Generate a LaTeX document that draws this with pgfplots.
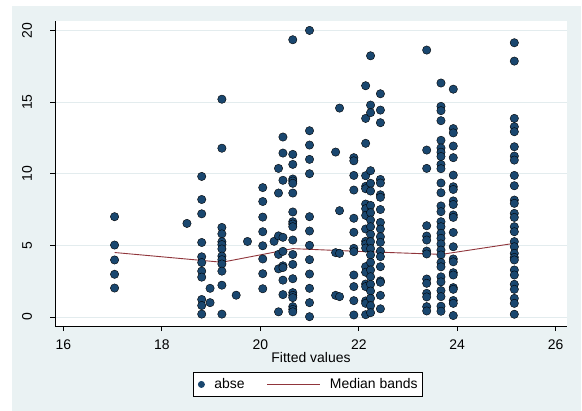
\documentclass[border=0pt]{standalone}
\usepackage{pgfplots}
\pgfplotsset{compat=1.18}
\usepackage{fontspec}
\setmainfont{Liberation Sans}
\definecolor{stnavy}{HTML}{1A476F}
\definecolor{stmaroon}{HTML}{90353B}
\definecolor{stbg}{HTML}{EAF2F3}
\definecolor{stgrid}{HTML}{E3ECEE}
\newcommand{\lblfont}{\fontsize{14}{16}\selectfont}

\begin{document}
\begin{tikzpicture}
% graph region
\fill[white] (-55bp,-85bp) rectangle (527bp,326bp);
\fill[stbg] (-43bp,-85bp) rectangle (526bp,320bp);
\begin{axis}[
  at={(0,0)}, anchor=south west,
  scale only axis, width=512bp, height=305.3bp,
  xmin=15.83, xmax=26.23, ymin=-0.63, ymax=20.68,
  axis background/.style={fill=white},
  axis x line*=bottom, axis y line*=left,
  axis line style={black, line width=0.7pt, -},
  xtick={16,18,...,26}, ytick={0,5,...,20},
  tick align=outside, major tick length=5bp,
  tick style={black, line width=0.7pt},
  ymajorgrids, grid style={stgrid, line width=0.9pt},
  ticklabel style={font=\lblfont},
  /pgf/number format/assume math mode=true,
  xticklabel style={anchor=base, inner sep=0pt},
  xticklabel shift=18bp,
  yticklabel style={rotate=90, anchor=south, inner sep=0pt},
  yticklabel shift=17.7bp,
  xlabel={Fitted values},
  xlabel style={font=\lblfont, at={(rel axis cs:0.5,0)}, anchor=base, yshift=-36.5bp, inner sep=0pt},
  legend columns=2,
  legend style={at={(rel axis cs:0,0)}, anchor=north west, xshift=137.7bp, yshift=-46.3bp,
    draw=black, line width=0.7pt, fill=white, font=\lblfont,
    inner xsep=4.9bp, inner ysep=6bp, nodes={inner sep=0pt},
    /tikz/every odd column/.append style={column sep=9.5bp},
    /tikz/every even column/.append style={column sep=22.3bp}},
]
\addplot[only marks, mark=*, mark size=4.2bp, mark options={fill=stnavy, draw=none},
  legend image code/.code={\fill[stnavy] (3.1bp,0bp) circle (3.1bp);}]
  table {
x y
17.04 7.00
17.04 5.02
17.04 3.98
17.04 2.98
17.04 2.02
18.51 6.53
18.81 9.81
18.81 8.20
18.81 7.20
18.81 5.20
18.81 4.20
18.81 3.80
18.81 3.20
18.81 2.78
18.81 1.22
18.81 0.80
18.81 0.20
18.98 2.00
18.98 1.00
19.22 15.20
19.22 11.78
19.22 6.25
19.22 5.80
19.22 5.25
19.22 5.05
19.22 4.75
19.22 4.25
19.22 4.00
19.22 3.70
19.22 3.20
19.22 2.22
19.22 0.20
19.51 1.52
19.74 5.27
20.05 9.03
20.05 8.06
20.05 6.97
20.05 5.95
20.05 4.97
20.05 4.05
20.05 3.02
20.05 1.97
20.28 5.28
20.37 10.37
20.37 8.65
20.37 5.66
20.37 4.37
20.37 3.36
20.37 0.36
20.46 12.56
20.46 11.44
20.46 9.54
20.46 5.56
20.46 4.58
20.46 3.57
20.46 3.45
20.46 2.57
20.46 1.56
20.66 19.35
20.66 11.35
20.66 10.65
20.66 9.63
20.66 9.49
20.66 9.33
20.66 8.65
20.66 7.33
20.66 6.65
20.66 6.49
20.66 6.30
20.66 5.37
20.66 4.36
20.66 3.67
20.66 2.67
20.66 1.70
20.66 1.51
20.66 1.35
20.66 0.72
20.66 0.53
20.66 0.36
21.00 20.00
21.00 13.00
21.00 12.00
21.00 11.00
21.00 10.00
21.00 7.00
21.00 6.00
21.00 5.00
21.00 4.00
21.00 3.00
21.00 2.00
21.00 1.00
21.00 0.02
21.53 11.51
21.53 4.49
21.53 1.51
21.61 14.58
21.61 7.42
21.61 4.44
21.61 1.42
21.90 11.12
21.90 10.90
21.90 9.88
21.90 8.86
21.90 6.89
21.90 5.91
21.90 4.79
21.90 4.56
21.90 2.93
21.90 2.12
21.90 1.14
21.90 0.14
22.14 16.14
22.14 13.86
22.14 12.12
22.14 9.86
22.14 9.12
22.14 8.95
22.14 7.88
22.14 7.56
22.14 7.09
22.14 6.14
22.14 5.28
22.14 5.09
22.14 4.81
22.14 3.51
22.14 3.12
22.14 2.30
22.14 2.12
22.14 1.12
22.14 0.95
22.14 0.16
22.24 18.23
22.24 14.79
22.24 14.26
22.24 10.21
22.24 9.33
22.24 8.79
22.24 7.79
22.24 7.28
22.24 6.77
22.24 6.30
22.24 5.77
22.24 5.26
22.24 4.77
22.24 4.33
22.24 3.81
22.24 3.28
22.24 2.81
22.24 2.28
22.24 1.81
22.24 1.30
22.24 0.79
22.24 0.30
22.44 15.58
22.44 14.44
22.44 13.56
22.44 9.60
22.44 9.35
22.44 8.53
22.44 8.35
22.44 7.50
22.44 6.60
22.44 6.14
22.44 5.60
22.44 5.21
22.44 4.60
22.44 4.21
22.44 3.51
22.44 2.52
22.44 2.42
22.44 1.51
22.44 0.57
23.38 18.63
23.38 11.65
23.38 10.37
23.38 6.37
23.38 5.65
23.38 5.37
23.38 4.60
23.38 4.40
23.38 2.65
23.38 2.35
23.38 1.65
23.38 1.40
23.38 0.72
23.38 0.42
23.67 16.33
23.67 14.70
23.67 14.40
23.67 13.70
23.67 12.33
23.67 11.80
23.67 11.50
23.67 11.20
23.67 10.65
23.67 10.35
23.67 9.35
23.67 8.67
23.67 7.75
23.67 7.35
23.67 6.65
23.67 6.30
23.67 5.84
23.67 5.49
23.67 5.10
23.67 4.67
23.67 4.33
23.67 3.80
23.67 3.50
23.67 2.80
23.67 2.45
23.67 1.84
23.67 1.42
23.67 0.75
23.67 0.40
23.92 15.90
23.92 13.15
23.92 12.85
23.92 11.93
23.92 11.12
23.92 9.90
23.92 9.09
23.92 8.90
23.92 8.10
23.92 7.85
23.92 7.12
23.92 6.95
23.92 5.90
23.92 4.90
23.92 4.05
23.92 3.85
23.92 3.09
23.92 2.93
23.92 2.05
23.92 1.93
23.92 1.15
23.92 0.95
23.92 0.10
25.16 19.14
25.16 17.86
25.16 13.86
25.16 13.28
25.16 12.93
25.16 11.88
25.16 11.23
25.16 10.95
25.16 9.88
25.16 9.16
25.16 8.16
25.16 7.93
25.16 7.23
25.16 6.95
25.16 6.30
25.16 5.95
25.16 5.26
25.16 4.90
25.16 4.44
25.16 4.16
25.16 3.98
25.16 3.28
25.16 2.93
25.16 2.28
25.16 1.93
25.16 1.30
25.16 0.95
25.16 0.19
};
\addlegendentry{abse}
\addplot[stmaroon, line width=0.9pt, mark=none,
  legend image code/.code={\draw[stmaroon, line width=0.9pt] (0bp,0bp) -- (52.7bp,0bp);}]
  coordinates {(17.04,4.50) (19.22,3.82) (20.66,4.77) (22.20,4.55) (23.68,4.37) (25.16,5.14)};
\addlegendentry{Median bands\hspace{3.1bp}}
\end{axis}
\pgfresetboundingbox
\path[use as bounding box] (-55bp,-85bp) rectangle (527bp,326bp);
\end{tikzpicture}
\end{document}
